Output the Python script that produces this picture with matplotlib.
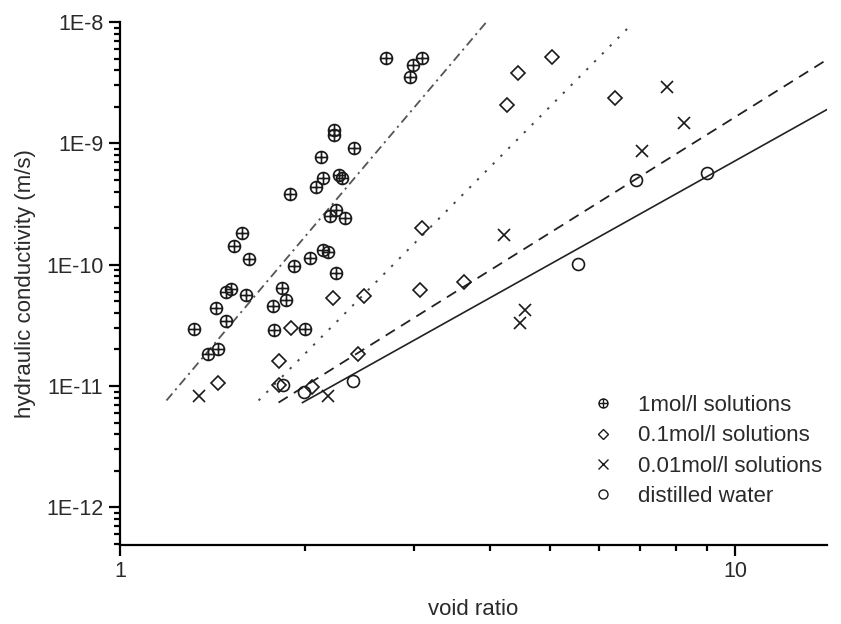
import matplotlib
matplotlib.use("Agg")
import matplotlib.pyplot as plt
from matplotlib.path import Path
from matplotlib.lines import Line2D

plt.rcParams['font.family'] = ['Liberation Sans', 'DejaVu Sans']

# void ratio / hydraulic conductivity (m/s)
e_1mol = [1.319, 1.390, 1.443, 1.432, 1.487, 1.487, 1.515, 1.603, 1.579, 1.532,
          1.621, 1.774, 1.834, 1.862, 1.780, 2.000, 1.919, 2.037, 2.138, 2.179,
          2.245, 1.890, 2.083, 2.138, 2.270, 2.296, 2.122, 2.228, 2.228, 2.401,
          2.195, 2.245, 2.322, 2.707, 2.962, 2.995, 3.097]
k_1mol = [2.97e-11, 1.82e-11, 2.0e-11, 4.43e-11, 3.46e-11, 6.0e-11, 6.34e-11, 5.66e-11,
          1.83e-10, 1.43e-10, 1.12e-10, 4.6e-11, 6.47e-11, 5.15e-11, 2.92e-11, 2.97e-11,
          9.8e-11, 1.14e-10, 1.33e-10, 1.26e-10, 8.6e-11, 3.84e-10, 4.39e-10, 5.2e-10,
          5.5e-10, 5.2e-10, 7.74e-10, 1.29e-9, 1.17e-9, 9.2e-10, 2.53e-10, 2.84e-10,
          2.44e-10, 5.06e-9, 3.52e-9, 4.43e-9, 5.06e-9]

e_01mol = [1.443, 1.813, 1.813, 1.897, 2.220, 2.494, 2.438, 2.052, 3.074, 3.097,
           3.625, 4.259, 4.438, 5.04, 6.38]
k_01mol = [1.05e-11, 1.62e-11, 1.01e-11, 3.03e-11, 5.35e-11, 5.56e-11, 1.82e-11, 9.9e-12,
           6.22e-11, 2.02e-10, 7.24e-11, 2.08e-9, 3.8e-9, 5.15e-9, 2.37e-9]

e_001mol = [1.344, 2.179, 4.211, 4.472, 4.556, 7.06, 8.26, 7.75]
k_001mol = [8.2e-12, 8.35e-12, 1.77e-10, 3.33e-11, 4.27e-11, 8.67e-10, 1.47e-9, 2.92e-9]

e_water = [1.841, 1.991, 2.392, 5.555, 6.90, 9.0]
k_water = [1.01e-11, 8.85e-12, 1.11e-11, 1.02e-10, 5.0e-10, 5.7e-10]

# fitted trend lines (end points)
fit_1mol = ([1.19, 3.98], [7.6e-12, 1.06e-8])
fit_01mol = ([1.68, 6.72], [7.6e-12, 9.1e-9])
fit_001mol = ([1.81, 14.1], [7.3e-12, 4.9e-9])
fit_water = ([1.98, 14.1], [7.3e-12, 1.9e-9])

labels = ['1mol/l solutions', '0.1mol/l solutions', '0.01mol/l solutions', 'distilled water']

# circle with a plus inside
oplus = Path.make_compound_path(
    Path.unit_circle(),
    Path([[-1, 0], [1, 0], [0, -1], [0, 1]],
         [Path.MOVETO, Path.LINETO, Path.MOVETO, Path.LINETO]))
markers = [oplus, 'D', 'x', 'o']

fig = plt.figure(figsize=(8.41, 6.24), dpi=100)
ax = fig.add_axes([120 / 841, 1 - 544.5 / 624, 707 / 841, 522.5 / 624])
ax.set_xscale('log')
ax.set_yscale('log')

ax.plot(*fit_1mol, color='#555555', lw=1.3, dashes=(5, 2.5, 1.2, 2.5))
ax.plot(*fit_01mol, color='#444444', lw=1.4, dashes=(1.2, 4.5))
ax.plot(*fit_001mol, color='#222222', lw=1.3, dashes=(6, 4))
ax.plot(*fit_water, color='#222222', lw=1.2)

mk = dict(ls='none', mfc='none', mec='#1a1a1a', mew=1.2)
ax.plot(e_1mol, k_1mol, marker=oplus, ms=8.6, **mk)
ax.plot(e_01mol, k_01mol, marker='D', ms=7.4, **mk)
ax.plot(e_001mol, k_001mol, marker='x', ms=9, **mk)
ax.plot(e_water, k_water, marker='o', ms=8.6, **mk)

ax.set_xlim(1, 14.1)
ax.set_ylim(4.94e-13, 1e-8)

for s in ['top', 'right']:
    ax.spines[s].set_visible(False)
for s in ['left', 'bottom']:
    ax.spines[s].set_linewidth(1.6)

ax.tick_params(which='major', direction='out', length=8, width=1.6,
               labelsize=15.5, labelcolor='#2a2a2a', pad=4)
ax.tick_params(which='minor', direction='out', length=4.5, width=1.6)
ax.tick_params(axis='x', which='minor', labelbottom=False)

ax.set_yticks([1e-12, 1e-11, 1e-10, 1e-9, 1e-8])
ax.set_yticklabels(['1E-12', '1E-11', '1E-10', '1E-9', '1E-8'])
ax.set_xticks([1, 10])
ax.set_xticklabels(['1', '10'])

ax.set_xlabel('void ratio', fontsize=16, color='#2a2a2a')
ax.set_ylabel('hydraulic conductivity (m/s)', fontsize=16, color='#2a2a2a')
ax.xaxis.set_label_coords(0.5, -0.125)
ax.yaxis.set_label_coords(-0.134, 0.5)
ax.xaxis.label.set_va('center')
ax.yaxis.label.set_va('center')

# smaller, thinner symbols in the key
handles = [Line2D([], [], ls='none', marker=m, mfc='none', mec='#1a1a1a', mew=1.0,
                  ms=5.6 if m == 'D' else 6.5) for m in markers]
leg = ax.legend(handles, labels, loc='upper left',
                bbox_to_anchor=(0.667, 0.286), frameon=False, fontsize=16,
                handlelength=1.0, handletextpad=1.1,
                labelspacing=0.42, borderpad=0, borderaxespad=0)
for t in leg.get_texts():
    t.set_color('#2a2a2a')

fig.savefig('out.png', dpi=100)
